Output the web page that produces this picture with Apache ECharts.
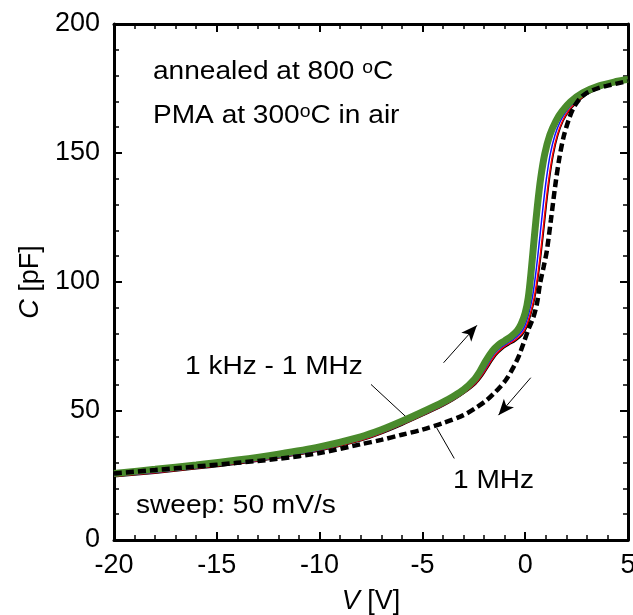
<!DOCTYPE html>
<html>
<head>
<meta charset="utf-8">
<script src="https://cdn.jsdelivr.net/npm/echarts@6/dist/echarts.min.js"></script>
<style>
  html, body { margin: 0; padding: 0; background: #fff; }
  #chart { width: 633px; height: 615px; }
</style>
</head>
<body>
<div id="chart"></div>
<script>
// forward sweep, 1 kHz - 1 MHz (four frequencies nearly on top of each other)
const fwdGreen = [[-20,25.8],[-18,27.4],[-16,29.1],[-14,31.0],[-12,33.3],[-10,36.1],[-8,40.0],[-7,42.7],[-6,46.0],[-5,49.6],[-4,53.4],[-3.5,55.6],[-3,58.2],[-2.5,62.0],[-2.2,65.4],[-1.9,69.6],[-1.6,73.2],[-1.3,75.6],[-1.0,77.2],[-0.7,78.8],[-0.4,81.0],[-0.2,83.6],[0.0,88],[0.15,94],[0.3,105],[0.45,118],[0.6,130],[0.75,140],[0.95,149.6],[1.2,157],[1.5,162.5],[1.8,166.2],[2.2,169.8],[2.8,173.3],[3.6,176.0],[4.5,177.8],[5.0,178.6]];
const fwdBlue = [[-20,24.9],[-18,26.3],[-16,28.0],[-14,29.9],[-12,32.2],[-10,35.0],[-8,38.9],[-7,41.6],[-6,44.9],[-5,48.5],[-4,52.3],[-3.5,54.5],[-3,57.1],[-2.45,60.9],[-2.12,64.3],[-1.8,68.5],[-1.5,72.2],[-1.18,74.6],[-0.88,76.2],[-0.56,77.8],[-0.25,80.0],[-0.04,82.6],[0.18,88],[0.35,94],[0.54,105],[0.72,118],[0.88,130],[1.03,140],[1.22,149.6],[1.45,157],[1.72,162.5],[2.0,166.2],[2.38,169.6],[2.95,173.1],[3.7,175.8],[4.55,177.5],[5.0,178.2]];
const fwdRed = [[-20,24.7],[-18,26.1],[-16,27.8],[-14,29.7],[-12,32.0],[-10,34.8],[-8,38.7],[-7,41.4],[-6,44.7],[-5,48.3],[-4,52.1],[-3.5,54.3],[-3,56.9],[-2.43,60.6],[-2.09,64.0],[-1.76,68.1],[-1.45,71.8],[-1.13,74.3],[-0.83,75.9],[-0.5,77.5],[-0.18,79.7],[0.03,82.4],[0.26,88],[0.44,94],[0.65,105],[0.84,118],[1.0,130],[1.15,140],[1.34,149.6],[1.56,157],[1.82,162.5],[2.09,166.2],[2.46,169.5],[3.02,173.0],[3.75,175.7],[4.58,177.4],[5.0,178.1]];
const fwdBlack = [[-20,24.5],[-18,25.9],[-16,27.6],[-14,29.5],[-12,31.8],[-10,34.6],[-8,38.5],[-7,41.2],[-6,44.5],[-5,48.1],[-4,51.9],[-3.5,54.1],[-3,56.7],[-2.41,60.4],[-2.07,63.7],[-1.74,67.8],[-1.43,71.5],[-1.11,74.0],[-0.8,75.6],[-0.47,77.2],[-0.15,79.4],[0.06,82.2],[0.29,88],[0.47,94],[0.68,105],[0.87,118],[1.03,130],[1.18,140],[1.37,149.6],[1.59,157],[1.85,162.5],[2.12,166.1],[2.5,169.4],[3.05,172.9],[3.8,175.6],[4.6,177.3],[5.0,178.0]];
// reverse sweep, 1 MHz
const revDashed = [[-20,25.8],[-18,27.1],[-16,28.5],[-14,29.9],[-12,31.5],[-10,33.7],[-8,37.1],[-7,38.8],[-6,40.8],[-5,42.8],[-4,45.3],[-3,48.4],[-2.4,51.2],[-1.87,54.2],[-1.5,57.0],[-1.22,59.3],[-0.9,62.5],[-0.57,67.0],[-0.3,71.5],[-0.09,76.1],[0.15,81.5],[0.4,86.4],[0.58,92],[0.72,99.3],[0.9,106],[1.05,112],[1.25,124],[1.45,136.7],[1.65,147.5],[1.86,156],[2.1,162.5],[2.34,167.3],[2.65,171],[2.99,173.3],[3.5,175],[3.96,176.0],[4.5,177.0],[5.0,177.9]];

// annotation arrows / leader lines (data coords)
const arrowUp = [[-3.97,68.7],[-2.35,83.2]];
const arrowDown = [[0.27,62.9],[-1.30,48.4]];
const leaderFwd = [[-7.5,60.3],[-5.75,47.4]];
const leaderRev = [[-4.3,43.4],[-3.45,31.6]];

const FONT = 'Liberation Sans, Arial, Helvetica, sans-serif';

const chart = echarts.init(document.getElementById('chart'));

const tickCommon = {
    axisLine: { show: true, onZero: false, lineStyle: { color: '#000', width: 3 } },
    axisTick: { show: true, inside: true, length: 8, lineStyle: { color: '#000', width: 2 } },
    minorTick: { show: true, splitNumber: 5, length: 5, lineStyle: { color: '#000', width: 1.5 } },
    splitLine: { show: false },
    minorSplitLine: { show: false }
};

const xBase = Object.assign({ type: 'value', min: -20, max: 5, interval: 5 }, tickCommon);
const yBase = Object.assign({ type: 'value', min: 0, max: 200, interval: 50 }, tickCommon);

const line = (data, color, width, z) => ({
    type: 'line', data: data, showSymbol: false, symbol: 'none',
    smooth: 0.3, z: z,
    lineStyle: { color: color, width: width }
});

const arrowPair = (pts, withArrow) => [
    { coord: pts[0], symbol: 'none' },
    { coord: pts[1], symbol: withArrow ? 'arrow' : 'none' }
];

const sup = { fontSize: 18, verticalAlign: 'top', lineHeight: 18, fontFamily: FONT, fill: '#000' };
const nrm = { fontSize: 26, lineHeight: 26, fontFamily: FONT, fill: '#000' };

const textItem = (x, y, txt) => ({
    type: 'text', x: x, y: y, scaleX: 1.08, z: 100,
    style: {
        text: txt, fill: '#000', font: '26px ' + FONT,
        textAlign: 'left', textVerticalAlign: 'middle',
        rich: { n: nrm, s: sup }
    }
});

chart.setOption({
    animation: false,
    backgroundColor: '#fff',
    grid: { left: 114, right: 5, top: 24, bottom: 75, containLabel: false, outerBoundsMode: 'none' },
    xAxis: [
        Object.assign({}, xBase, {
            position: 'bottom',
            axisLabel: { color: '#000', fontSize: 27, fontFamily: FONT, margin: 12 },
            name: '{i|V} [V]', nameLocation: 'middle', nameGap: 48,
            nameTextStyle: { color: '#000', fontSize: 27, fontFamily: FONT,
                rich: { i: { fontStyle: 'italic', fontSize: 27, fontFamily: FONT } } }
        }),
        Object.assign({}, xBase, { position: 'top', axisLabel: { show: false } })
    ],
    yAxis: [
        Object.assign({}, yBase, {
            position: 'left',
            axisLabel: { color: '#000', fontSize: 27, fontFamily: FONT, margin: 14 },
            name: '{i|C} [pF]', nameLocation: 'middle', nameGap: 68, nameRotate: 90,
            nameTextStyle: { color: '#000', fontSize: 27, fontFamily: FONT,
                rich: { i: { fontStyle: 'italic', fontSize: 27, fontFamily: FONT } } }
        }),
        Object.assign({}, yBase, { position: 'right', axisLabel: { show: false } })
    ],
    series: [
        line(fwdBlack, '#000000', 1.5, 2),
        line(fwdRed, '#ff0000', 1.5, 3),
        line(fwdBlue, '#1010ff', 1.5, 4),
        line(fwdGreen, '#4a8b2c', 7, 5),
        Object.assign(line(revDashed, '#000000', 4.5, 6), {
            lineStyle: { color: '#000', width: 4.5, type: [8, 4] },
            markLine: {
                silent: true, animation: false,
                symbolSize: [10, 16],
                label: { show: false },
                lineStyle: { color: '#000', width: 1, type: 'solid' },
                emphasis: { disabled: true },
                data: [
                    arrowPair(arrowUp, true),
                    arrowPair(arrowDown, true),
                    arrowPair(leaderFwd, false),
                    arrowPair(leaderRev, false)
                ]
            }
        })
    ],
    graphic: [
        textItem(153, 72, '{n|annealed at 800 }{s|o}{n|C}'),
        textItem(153, 116, '{n|PMA at 300}{s|o}{n|C in air}'),
        textItem(185, 367, '1 kHz - 1 MHz'),
        textItem(453, 481, '1 MHz'),
        textItem(136, 506, 'sweep: 50 mV/s')
    ]
});
</script>
</body>
</html>
